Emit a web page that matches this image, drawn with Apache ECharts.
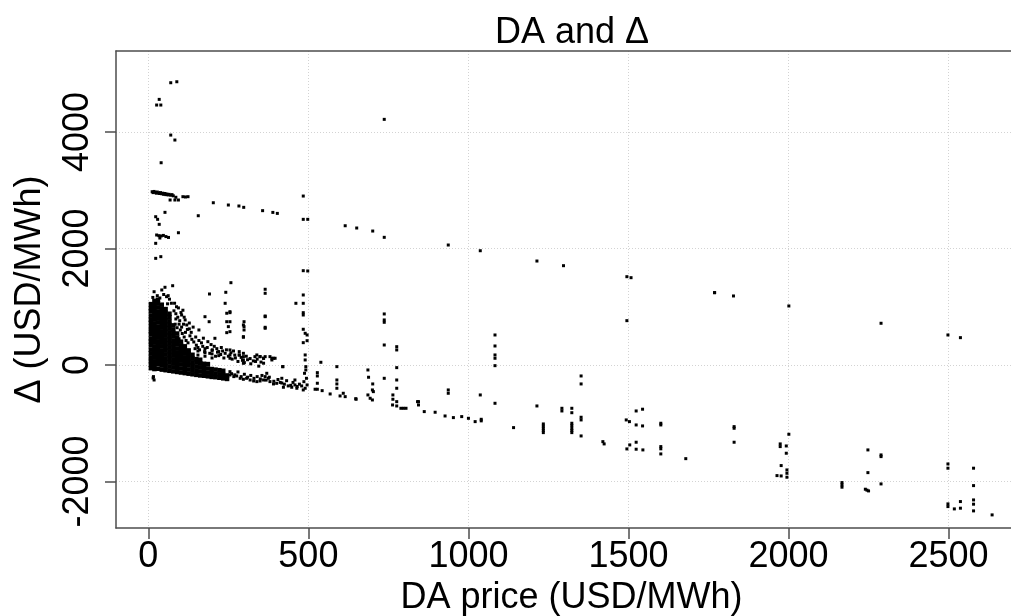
<!DOCTYPE html>
<html>
<head>
<meta charset="utf-8">
<title>DA and Δ</title>
<script src="https://cdn.jsdelivr.net/npm/echarts@6/dist/echarts.min.js"></script>
<style>
  html, body { margin: 0; padding: 0; background: #ffffff; overflow: hidden; }
  #chart { width: 1011px; height: 616px; }
</style>
</head>
<body>
<div id="chart"></div>
<script>
// Tick positions
const xTicks = [0, 500, 1000, 1500, 2000, 2500];
const yTicks = [-2000, 0, 2000, 4000];

// Dense core of low-price hours: DA price per column, and the Δ values in each column
const coreX = [8, 19, 30, 42, 54, 66, 78, 90, 102, 114, 126, 138, 150, 162, 174, 186, 198, 210, 222, 234, 246];
const coreY = [
  [-55, 8, 72, 130, 198, 262, 335, 398, 455, 528, 586, 652, 724, 781, 846, 918, 975, 1045],
  [-70, 0, 60, 125, 190, 255, 320, 388, 450, 515, 580, 648, 710, 778, 842, 905, 970, 1030, 1100],
  [-65, 12, 78, 140, 205, 270, 340, 402, 468, 530, 598, 660, 730, 795, 858, 920, 990, 1060, 1120],
  [-80, -10, 55, 120, 185, 250, 318, 382, 447, 512, 575, 640, 705, 770, 838, 900, 965, 1035],
  [-90, -20, 48, 112, 178, 245, 310, 375, 440, 505, 570, 635, 700, 768, 830, 895, 960],
  [-100, -30, 40, 105, 170, 235, 300, 365, 430, 495, 560, 625, 690, 750, 820, 880],
  [-110, -40, 30, 95, 160, 225, 290, 360, 420, 490, 550, 610, 680],
  [-120, -50, 20, 85, 150, 215, 280, 350, 410, 470, 540],
  [-130, -60, 10, 75, 140, 205, 270, 335, 400],
  [-140, -70, 0, 65, 130, 195, 260, 320],
  [-150, -80, -10, 55, 120, 190, 250],
  [-160, -90, -20, 45, 110, 175],
  [-170, -100, -30, 40, 100],
  [-180, -110, -40, 30, 90],
  [-185, -120, -50, 20],
  [-195, -130, -60, 15],
  [-205, -140, -70],
  [-210, -150, -80],
  [-220, -160, -90],
  [-230, -170, -100],
  [-240, -180]
];

// Hours near the 3000 USD/MWh cap line
const capLine = [
  [12, 2975], [15, 2960], [18, 2980], [22, 2965], [25, 2950], [28, 2970], [32, 2955], [35, 2945],
  [38, 2960], [42, 2940], [45, 2950], [48, 2930], [52, 2945], [55, 2925], [58, 2935], [62, 2920],
  [65, 2930], [70, 2915], [74, 2925], [78, 2905], [68, 2833], [83, 2833], [94, 2833], [86, 2880],
  [108, 2890], [116, 2885], [124, 2890], [203, 2786], [250, 2747], [283, 2730], [298, 2707],
  [357, 2650], [389, 2620], [403, 2603], [484, 2901], [484, 2501], [498, 2501], [615, 2391],
  [651, 2352], [701, 2300], [737, 2192], [937, 2060], [1037, 1962], [1214, 1785], [1297, 1705],
  [1495, 1516], [1508, 1499], [1769, 1242], [1828, 1185], [2001, 1013], [2289, 716], [2498, 515],
  [2537, 469]
];

// Extreme positive Δ
const highOutliers = [
  [70, 4847], [89, 4864], [26, 4464], [34, 4561], [39, 4464], [70, 3948], [83, 3863], [40, 3473],
  [737, 4218], [23, 2546], [29, 2501], [34, 2415], [52, 2621], [156, 2563], [26, 2232], [33, 2220],
  [40, 2215], [47, 2225], [55, 2205], [63, 2190], [36, 2180], [94, 2271], [23, 2089], [23, 1831],
  [39, 1860], [498, 1614], [484, 1619]
];

// Low-price hours above the dense core
const upperScatter = [
  [18, 1258], [42, 1288], [52, 1334], [76, 1361], [62, 1190], [57, 1173], [191, 1219], [242, 1248],
  [258, 1413], [365, 1300], [365, 1231], [484, 1202], [461, 1059], [484, 1059], [240, 1059],
  [177, 829], [190, 743], [158, 601], [208, 458], [115, 773], [104, 858], [120, 687], [245, 888],
  [255, 898], [245, 743], [245, 555], [250, 658], [255, 572], [299, 743], [299, 658], [299, 601],
  [297, 486], [365, 829], [365, 630], [255, 915], [255, 743], [297, 687], [297, 476], [365, 841],
  [365, 647], [484, 898], [484, 858], [484, 613], [490, 544], [496, 515], [484, 383], [496, 417],
  [490, 172], [490, 86], [539, 46], [589, -29], [420, -29], [386, 115], [391, 115], [333, 143],
  [349, 143], [360, 115],
  [80, 930], [86, 880], [92, 820], [98, 760], [84, 700], [90, 640], [100, 600], [106, 540],
  [112, 480], [96, 450], [118, 420], [124, 380], [88, 1000], [110, 700], [102, 900], [116, 560],
  [130, 500], [136, 440], [142, 395], [128, 620], [150, 340], [146, 280], [160, 260], [170, 320],
  [176, 230], [184, 300], [192, 200], [200, 260], [210, 150], [216, 220], [226, 180], [236, 120],
  [240, 200], [250, 150], [262, 100], [270, 170], [280, 60], [290, 130], [300, 40], [310, 90],
  [320, 20], [335, 60], [345, -20], [360, 30],
  [155, 300], [155, 240], [155, 170], [177, 280], [177, 210], [177, 150], [199, 250], [199, 190],
  [199, 120], [220, 230], [220, 160],
  [82, 1060], [94, 980], [108, 940], [86, 790], [96, 700], [104, 650], [122, 610], [134, 560],
  [112, 820], [128, 720], [140, 650], [148, 480], [158, 420], [166, 380], [172, 460], [186, 400],
  [196, 350], [206, 320], [214, 280], [228, 300], [232, 240], [244, 260], [258, 210], [266, 240],
  [272, 120], [284, 170], [294, 80], [306, 150], [318, 110], [328, 70], [340, 100], [352, 50],
  [14, 1160], [28, 1190], [36, 1150], [48, 1210], [66, 1130], [72, 1060], [60, 1050]
];

// Band of hours just below zero, 250-500 USD/MWh
const lowerBand = [
  [255, 258], [255, 172], [255, 115], [284, 229], [284, 172], [297, 200], [297, 143], [297, 86],
  [297, 29], [339, 172], [349, 143], [360, 115], [365, 143], [380, 143], [386, 86], [396, 115],
  [420, -29],
  [255, -115], [255, -172], [267, -200], [276, -189], [287, -229], [297, -246], [307, -229],
  [318, -258], [329, -275], [339, -286], [349, -275], [360, -258], [365, -200], [370, -143],
  [375, -229], [380, -286], [391, -326], [401, -315], [417, -229], [417, -310], [422, -383],
  [437, -360], [448, -383], [458, -258], [458, -343], [464, -400], [479, -360], [484, -429],
  [260, -150], [270, -170], [280, -120], [290, -200], [300, -160], [310, -210], [320, -180],
  [330, -230], [340, -200], [350, -240], [355, -180], [368, -260], [378, -210], [392, -280],
  [405, -250], [412, -300], [425, -330], [432, -270], [445, -350], [452, -300], [465, -370],
  [472, -330], [492, -29], [492, -86], [488, -143], [494, -229], [486, -287], [496, -343],
  [490, -400], [18, -258], [15, -223], [16, -200]
];

// Hours between 500 and 850 USD/MWh
const midRange = [
  [528, -132], [528, -189], [528, -314], [528, -417], [589, -258], [589, -326], [589, -400],
  [609, -486], [615, -544], [649, -589], [648, -579], [686, -86], [688, -211], [686, -515],
  [693, -572], [701, -326], [703, -458], [700, -429], [700, -601], [737, 876], [737, 773],
  [737, 733], [737, 343], [737, -229], [776, 314], [776, 258], [776, -46], [776, -258],
  [776, -400], [764, -515], [764, -589], [763, -687], [776, -630], [776, -704], [789, -744],
  [805, -744], [841, -630], [521, -417], [543, -441], [568, -498], [599, -532]
];

// Hours above 850 USD/MWh
const highPrice = [
  [797, -744], [844, -630], [844, -687], [862, -801], [896, -812], [927, -876], [953, -904],
  [979, -887], [1000, -916], [1021, -973], [1040, -933], [1040, -960], [937, -429], [937, -486],
  [1037, -515], [1083, 515], [1083, 326], [1083, 172], [1083, 115], [1083, -12], [1083, -658],
  [1141, -1076], [1214, -704], [1234, -1013], [1234, -1050], [1234, -1087], [1234, -1125],
  [1234, -1162], [1292, -744], [1292, -790], [1323, -744], [1323, -820], [1323, -1001],
  [1323, -1040], [1323, -1087], [1323, -1125], [1323, -1162], [1352, -189], [1352, -326],
  [1352, -898], [1352, -944], [1352, -1219], [1420, -1317], [1424, -1356], [1495, 761],
  [1493, -944], [1503, -973], [1524, -790], [1544, -760], [1524, -1030], [1544, -1047],
  [1495, -1442], [1504, -1373], [1524, -1327], [1524, -1447], [1545, -1459], [1601, -1001],
  [1601, -1030], [1601, -1402], [1601, -1440], [1601, -1528], [1679, -1609], [1769, 1242],
  [1830, -1059], [1830, -1087], [1830, -1327], [2001, -1190], [1974, -1356], [1974, -1402],
  [1993, -1391], [1993, -1516], [1977, -1728], [1964, -1900], [1977, -1906], [1995, -1803],
  [1995, -1860], [1995, -1928], [2167, -2020], [2167, -2060], [2167, -2099], [2240, -2134],
  [2250, -2163], [2245, -2150], [2248, -1459], [2248, -1849], [2289, -1545], [2289, -1574],
  [2289, -2043], [2498, -1700], [2498, -1773], [2498, -2386], [2498, -2432], [2518, -2472],
  [2537, -2346], [2537, -2460], [2578, -1773], [2578, -2072], [2578, -2318], [2578, -2391],
  [2578, -2506], [2636, -2575]
];

const coreData = [];
coreX.forEach(function (x, i) {
  coreY[i].forEach(function (y) { coreData.push([x, y]); });
});
const sparseData = [].concat(capLine, highOutliers, upperScatter, lowerBand, midRange, highPrice);

const FONT = '"Liberation Sans", Arial, sans-serif';
const BOX = { color: '#4d4d4d', width: 1.5 };
const GRIDLINE = { color: '#d3d3d3', type: [1, 2], width: 1 };
const plain = function (v) { return String(v); };
const chart = echarts.init(document.getElementById('chart'), null, { renderer: 'canvas' });

chart.setOption({
  animation: false,
  backgroundColor: '#ffffff',
  title: {
    text: 'DA and Δ',
    left: 567,
    top: 10,
    textAlign: 'center',
    textStyle: { fontFamily: FONT, fontSize: 36, fontWeight: 'normal', color: '#000000' }
  },
  grid: {
    left: 116, top: 51, width: 911, height: 477,
    outerBoundsMode: 'none',
    show: false
  },
  xAxis: [
    {
      type: 'value',
      position: 'bottom',
      min: -101, max: 2745,
      name: 'DA price (USD/MWh)',
      nameLocation: 'middle',
      nameGap: 48,
      nameTextStyle: { fontFamily: FONT, fontSize: 36, color: '#000000' },
      axisLine: { show: true, onZero: false, lineStyle: BOX },
      axisTick: { show: true, customValues: xTicks, length: 11, lineStyle: BOX },
      axisLabel: { customValues: xTicks, formatter: plain, fontFamily: FONT, fontSize: 36, color: '#000000', margin: 11 },
      splitLine: { show: true, lineStyle: GRIDLINE }
    },
    {
      // top edge of the plot box
      type: 'value',
      position: 'top',
      min: -101, max: 2745,
      axisLine: { show: true, onZero: false, lineStyle: BOX },
      axisTick: { show: false },
      axisLabel: { show: false },
      splitLine: { show: false }
    }
  ],
  yAxis: {
    type: 'value',
    position: 'left',
    min: -2800, max: 5392,
    name: 'Δ (USD/MWh)',
    nameLocation: 'middle',
    nameGap: 68,
    nameTextStyle: { fontFamily: FONT, fontSize: 36, color: '#000000' },
    axisLine: { show: true, onZero: false, lineStyle: BOX },
    axisTick: { show: true, customValues: yTicks, length: 11, lineStyle: BOX },
    axisLabel: { customValues: yTicks, formatter: plain, rotate: 90, fontFamily: FONT, fontSize: 36, color: '#000000', margin: 20 },
    splitLine: { show: true, lineStyle: GRIDLINE }
  },
  series: [
    {
      name: 'core',
      type: 'scatter',
      xAxisIndex: 0,
      symbol: 'rect',
      symbolSize: 4.5,
      itemStyle: { color: '#000000', opacity: 1 },
      data: coreData
    },
    {
      name: 'hours',
      type: 'scatter',
      xAxisIndex: 0,
      symbol: 'rect',
      symbolSize: 3,
      itemStyle: { color: '#000000', opacity: 1 },
      data: sparseData
    }
  ]
});
</script>
</body>
</html>
